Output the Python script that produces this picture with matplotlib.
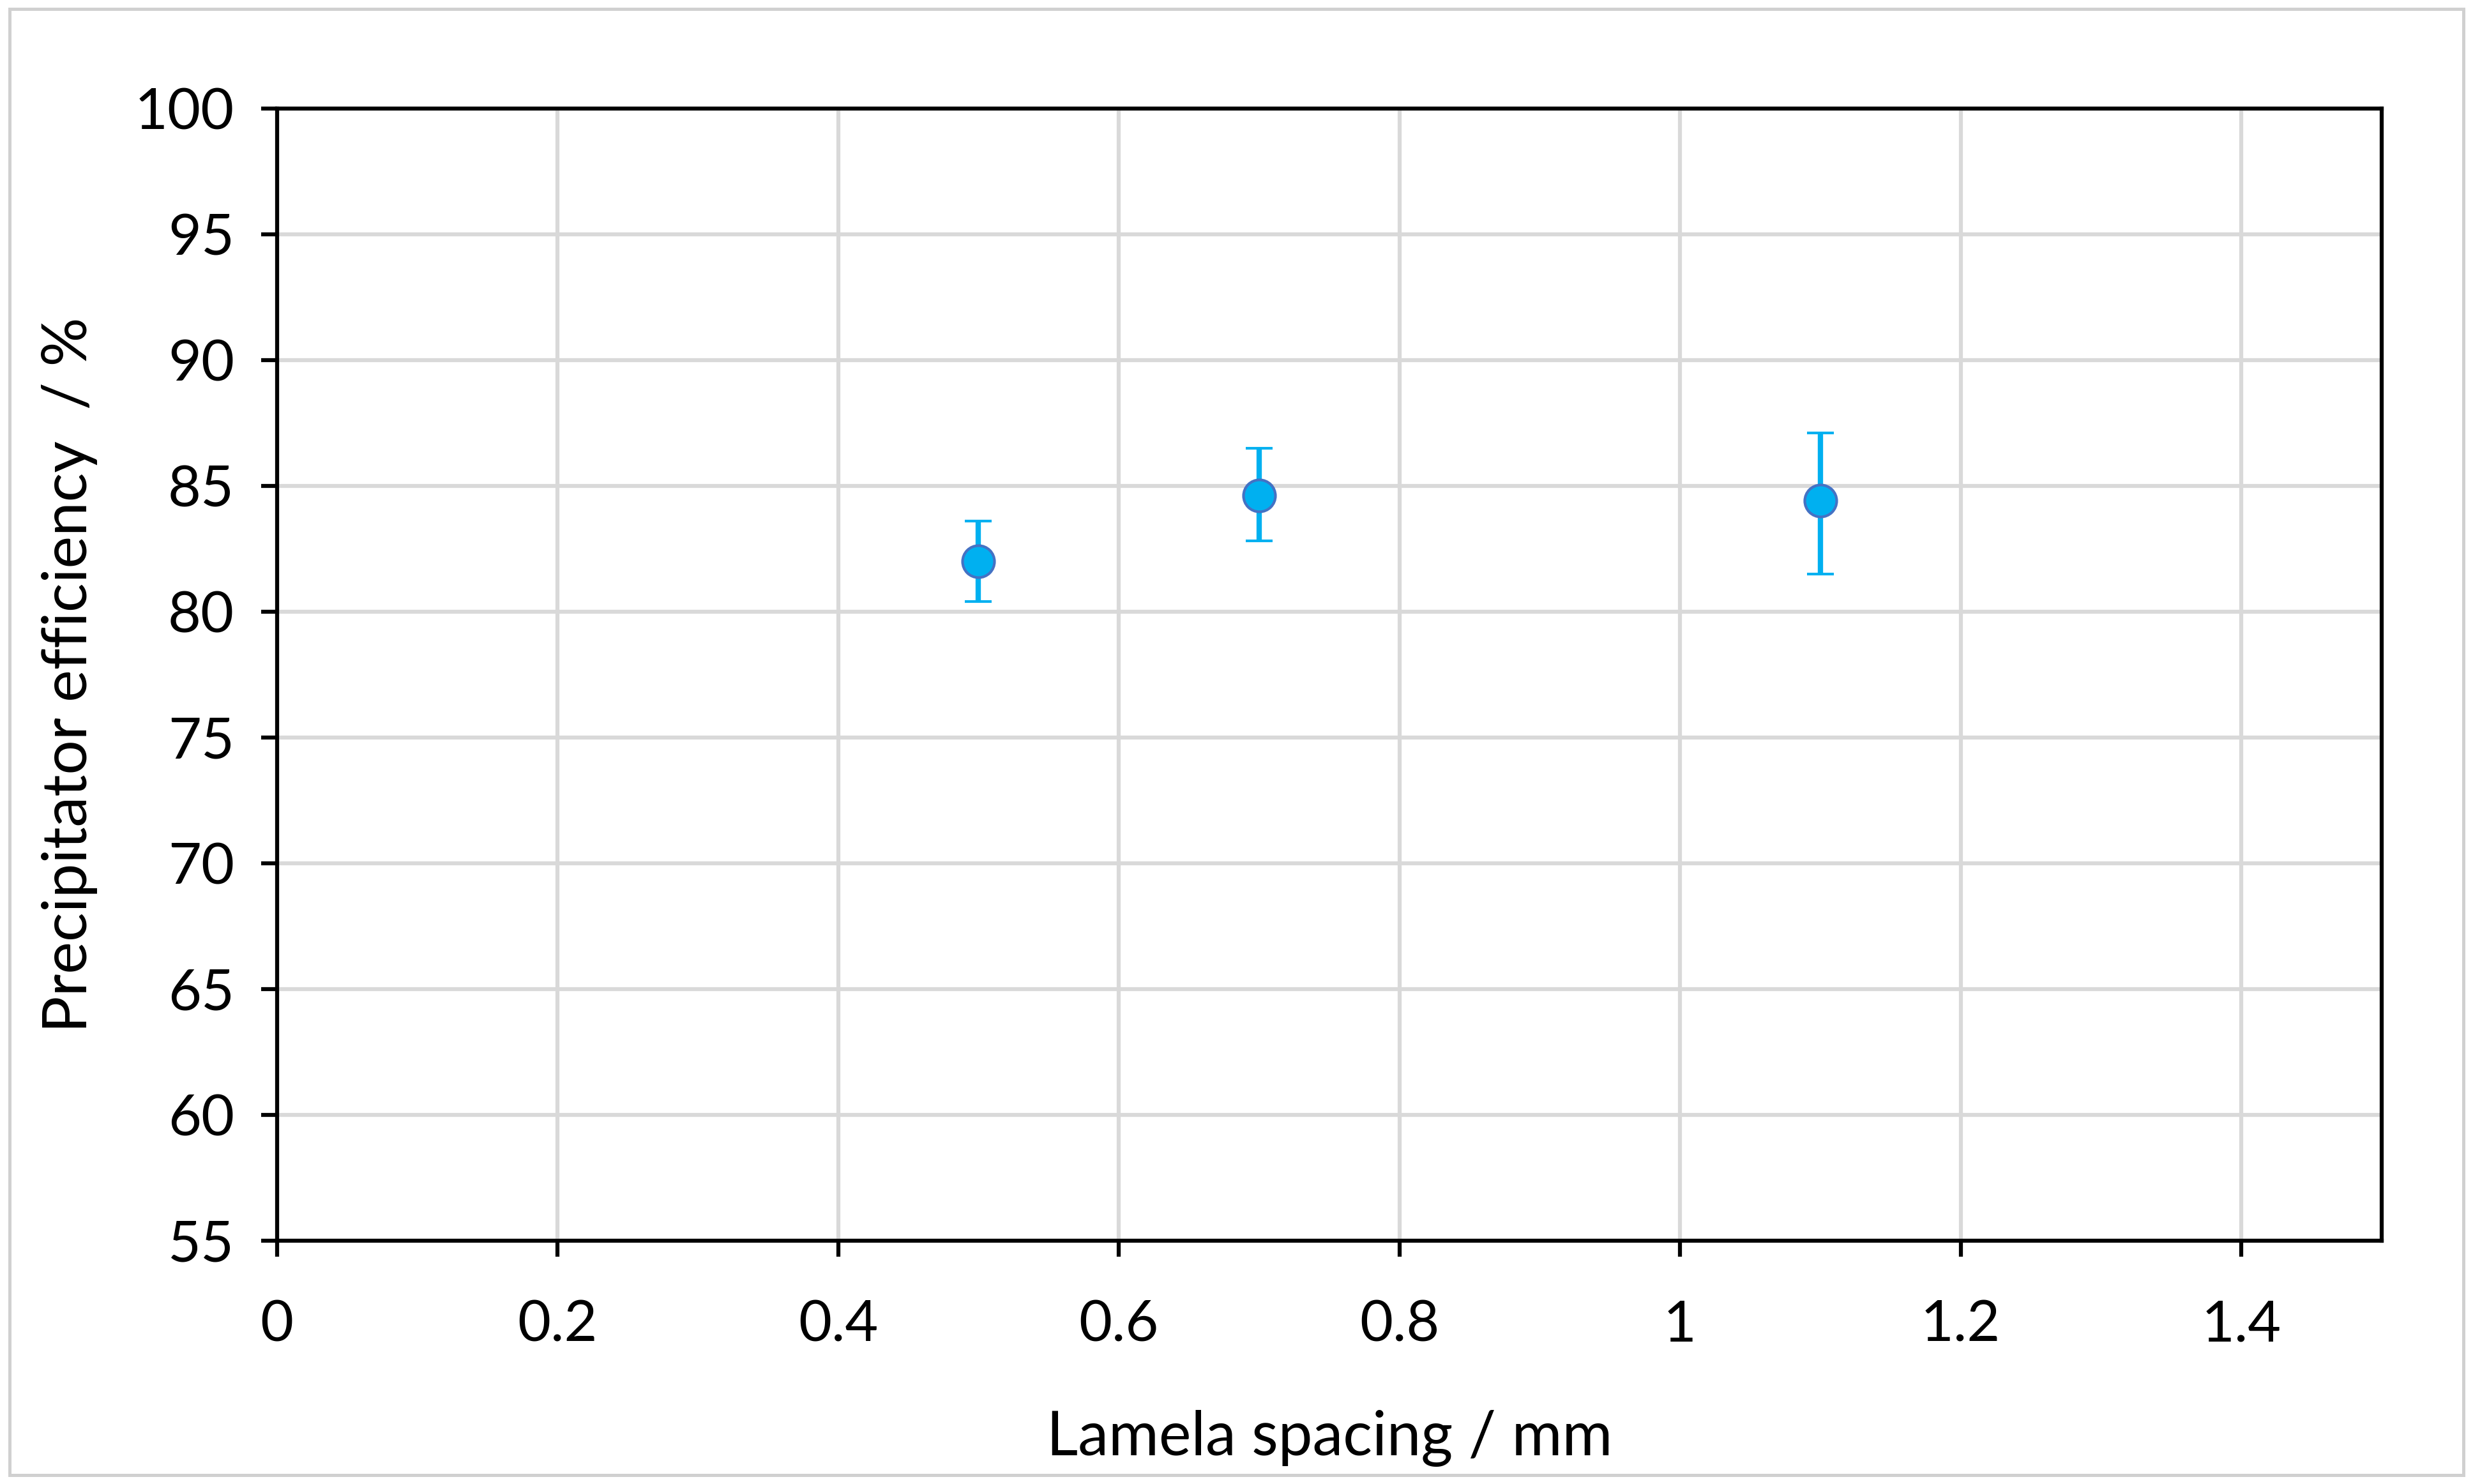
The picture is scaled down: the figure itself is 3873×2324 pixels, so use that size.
import matplotlib
matplotlib.use("Agg")
import matplotlib.pyplot as plt
from matplotlib.patches import Rectangle

x = [0.5, 0.7, 1.1]
y = [82.0, 84.6, 84.4]
yerr_low = [1.6, 1.8, 2.9]
yerr_high = [1.6, 1.9, 2.7]
xticks = [0, 0.2, 0.4, 0.6, 0.8, 1.0, 1.2, 1.4]
xticklabels = ["0", "0.2", "0.4", "0.6", "0.8", "1", "1.2", "1.4"]
yticks = [55, 60, 65, 70, 75, 80, 85, 90, 95, 100]

plt.rcParams['font.family'] = ['Lato', 'DejaVu Sans']
fig = plt.figure(figsize=(12.91, 7.747), dpi=300)
ax = fig.add_axes([0.112, 0.164, 0.851, 0.763])
fig.patches.append(Rectangle((0.004, 0.006), 0.992, 0.988, transform=fig.transFigure,
                             fill=False, edgecolor='#d0d0d0', linewidth=1.2))

ax.errorbar(x, y, yerr=[yerr_low, yerr_high], fmt='o', color='#00b0f0', ecolor='#00b0f0',
            markersize=12, markeredgecolor='#4472c4', markeredgewidth=1.0,
            elinewidth=2, capsize=5, capthick=2, zorder=3)
ax.set_xlim(0, 1.5)
ax.set_ylim(55, 100)
ax.set_xticks(xticks)
ax.set_xticklabels(xticklabels)
ax.set_yticks(yticks)
ax.grid(True, color='#d9d9d9', linewidth=1.5)
ax.set_axisbelow(True)
for s in ax.spines.values():
    s.set_linewidth(1.5)
    s.set_color('black')
ax.tick_params(axis='both', labelsize=21.5, length=6, width=1.5, direction='out')
ax.tick_params(axis='x', pad=16)
ax.tick_params(axis='y', pad=10)
ax.set_xlabel("Lamela spacing / mm", fontsize=23, labelpad=22)
ax.set_ylabel("Precipitator efficiency  / %", fontsize=23, labelpad=14)
fig.savefig("out.png", dpi=300)
